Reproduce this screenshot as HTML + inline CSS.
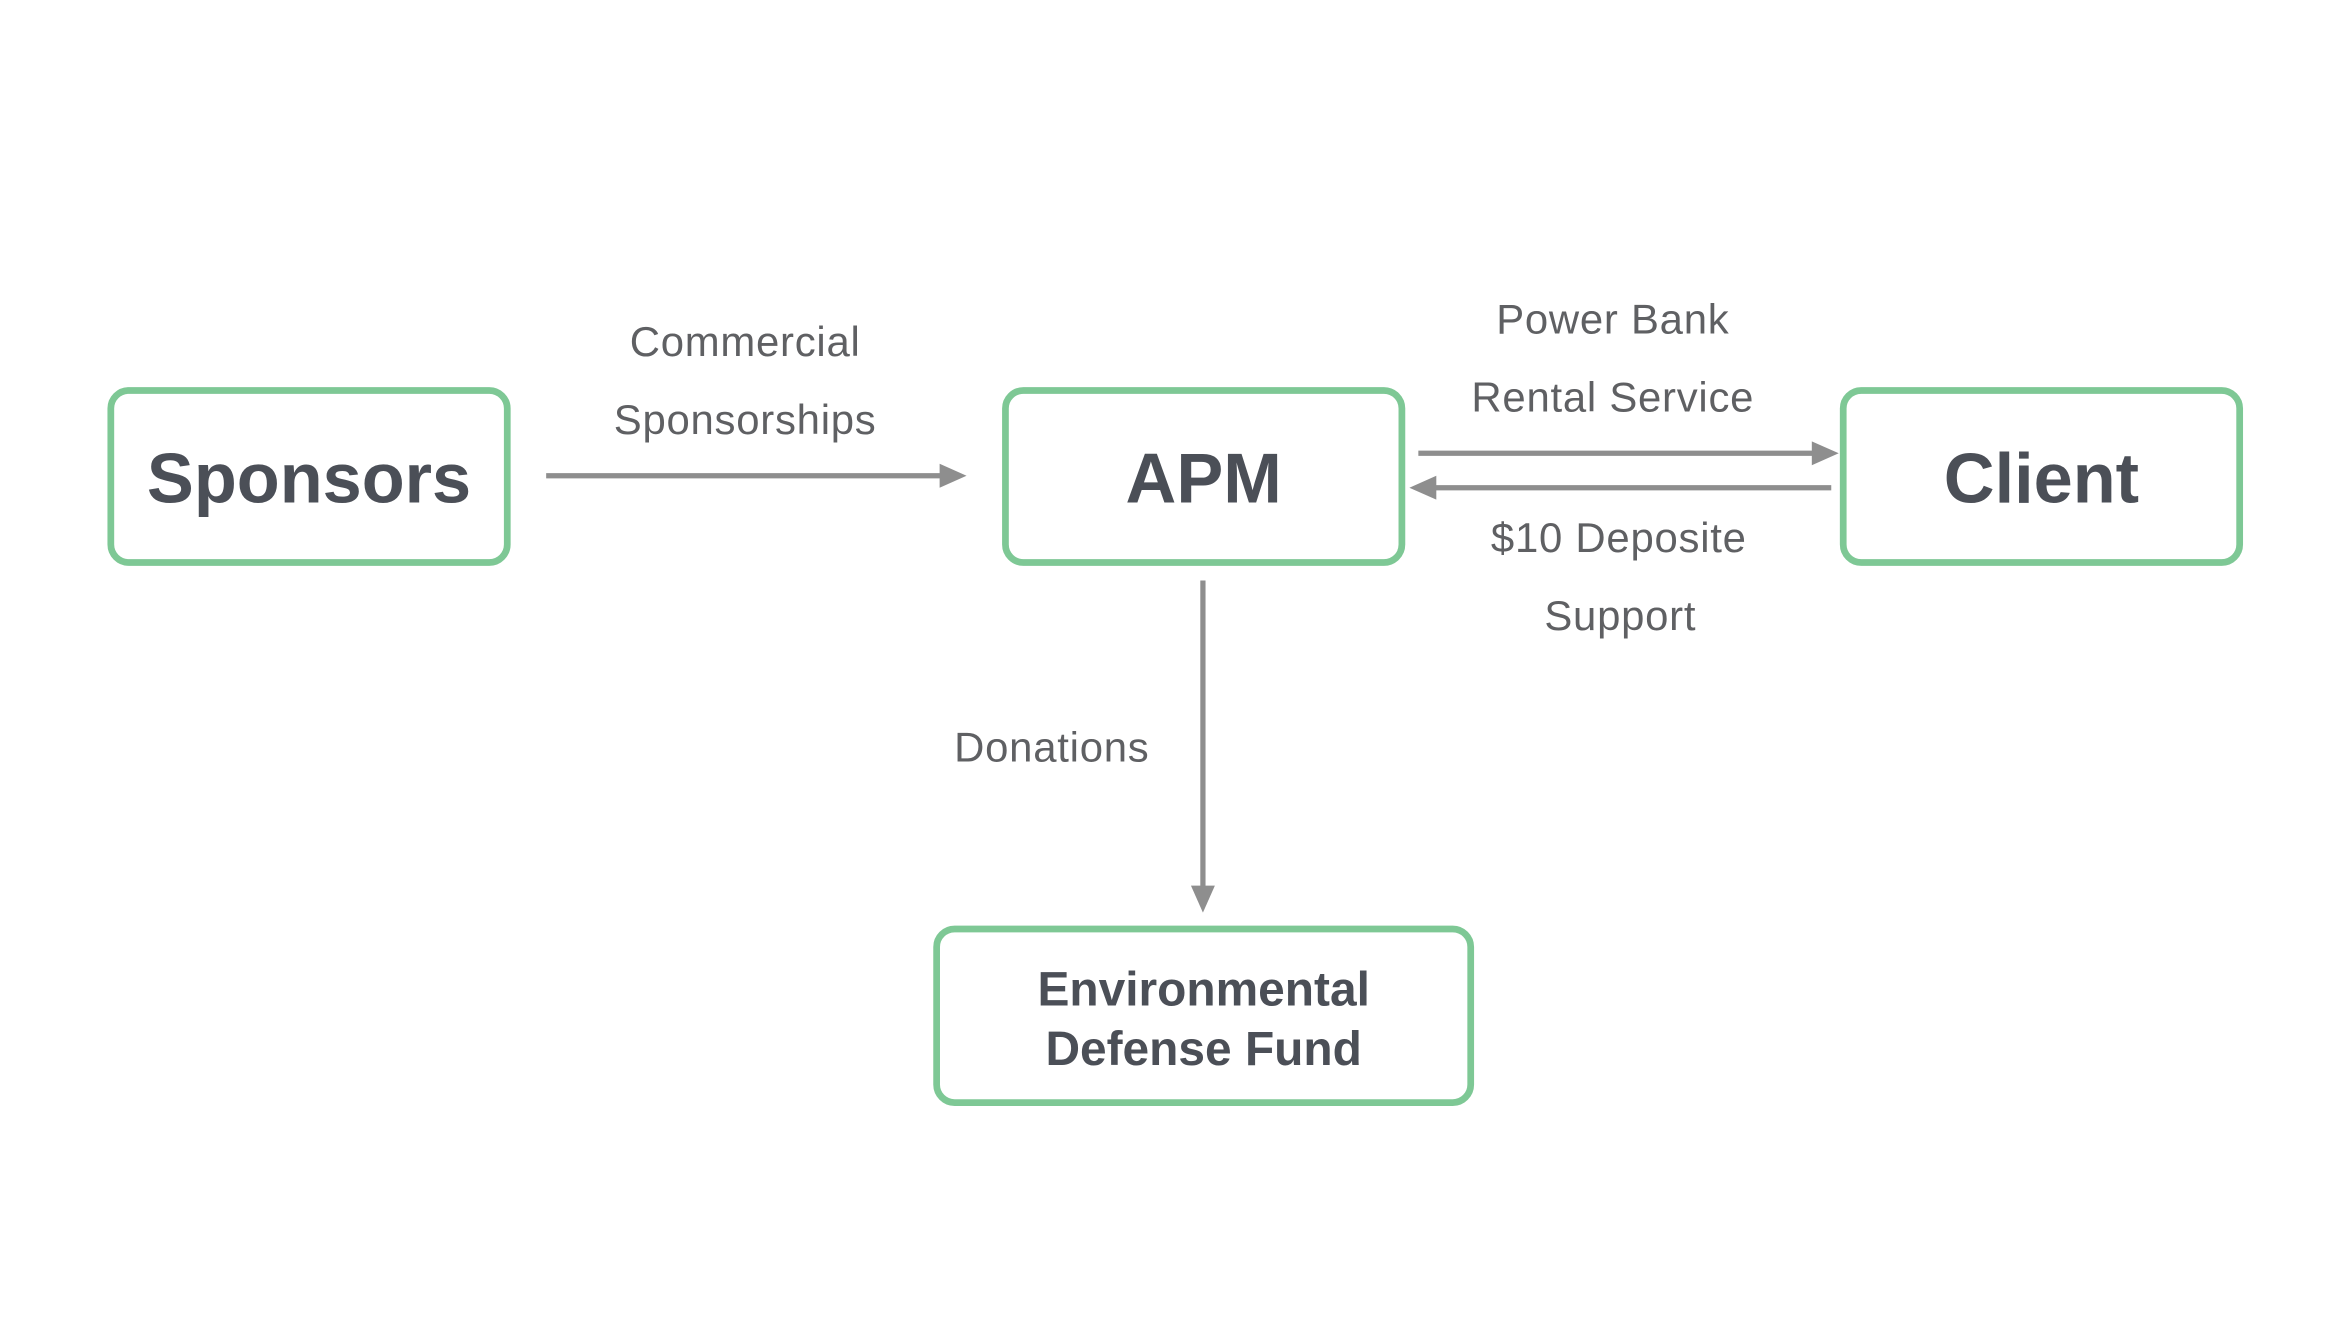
<!DOCTYPE html>
<html><head><meta charset="utf-8"><style>
html,body{margin:0;padding:0;background:#fff}
svg{display:block}
text{font-family:"Liberation Sans",Arial,sans-serif}
.lbl{font-size:28px;fill:#5f6063;letter-spacing:0.5px}
.box{fill:#fff;stroke:#7ec895;stroke-width:4.5}
.bt{font-weight:bold;fill:#4b4f57}
.ar{stroke:#8e8e8e;stroke-width:3.5}
.ah{fill:#8e8e8e}
</style></head><body>
<svg width="2346" height="1318" viewBox="0 0 1568 881">
<g>
<rect class="box" x="74" y="261" width="265" height="115" rx="12"/>
<text class="bt" x="206.5" y="336" font-size="47" text-anchor="middle">Sponsors</text>
</g>
<g>
<rect class="box" x="672" y="261" width="265" height="115" rx="12"/>
<text class="bt" x="804.5" y="336" font-size="47" text-anchor="middle">APM</text>
</g>
<g>
<rect class="box" x="1232" y="261" width="265" height="115" rx="12"/>
<text class="bt" x="1364.5" y="336" font-size="47" text-anchor="middle">Client</text>
</g>
<g>
<rect class="box" x="626" y="621" width="357" height="116" rx="12"/>
<text class="bt" x="804.5" y="672" font-size="32" text-anchor="middle">Environmental</text>
<text class="bt" x="804.5" y="712" font-size="32" text-anchor="middle">Defense Fund</text>
</g>
<g>
<line class="ar" x1="365" y1="318" x2="630" y2="318"/>
<polygon class="ah" points="628,310 646,318 628,326"/>
</g>
<g>
<line class="ar" x1="948" y1="303" x2="1213" y2="303"/>
<polygon class="ah" points="1211,295 1229,303 1211,311"/>
</g>
<g>
<line class="ar" x1="1224" y1="326" x2="958" y2="326"/>
<polygon class="ah" points="960,318 942,326 960,334"/>
</g>
<g>
<line class="ar" x1="804" y1="388" x2="804" y2="594"/>
<polygon class="ah" points="796,592 804,610 812,592"/>
</g>
<text class="lbl" x="498" y="238" text-anchor="middle">Commercial</text>
<text class="lbl" x="498" y="290" text-anchor="middle">Sponsorships</text>
<text class="lbl" x="1078" y="223" text-anchor="middle">Power Bank</text>
<text class="lbl" x="1078" y="275" text-anchor="middle">Rental Service</text>
<text class="lbl" x="1082" y="369" text-anchor="middle">$10 Deposite</text>
<text class="lbl" x="1083" y="421" text-anchor="middle">Support</text>
<text class="lbl" x="703" y="509" text-anchor="middle">Donations</text>
</svg>
</body></html>
